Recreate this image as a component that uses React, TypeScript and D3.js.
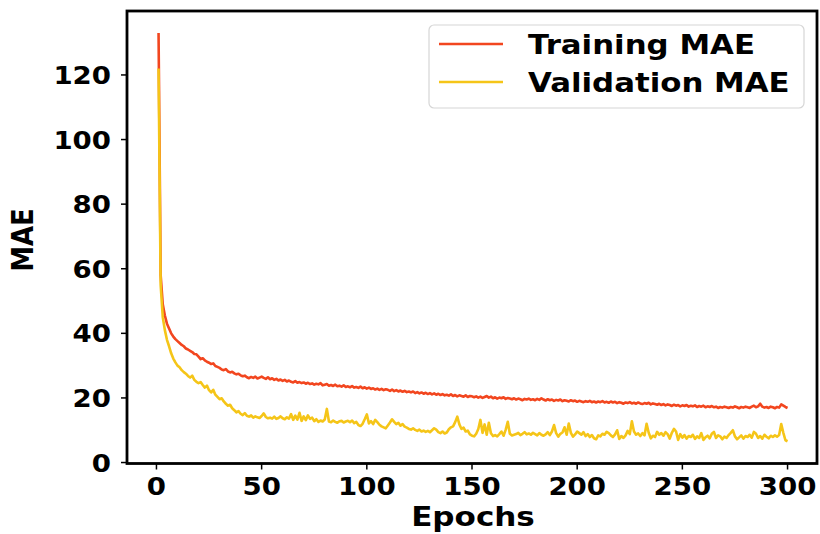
import React from 'react';
import * as d3 from 'd3';

// MAE per epoch (epochs 1..300)
const trainingMAE = [
  133, 58, 49, 45.5, 43, 41.5, 40, 39, 38.2, 37.6,
  37, 36.4, 36, 35.3, 35, 34.6, 34.2, 33.6, 33.5, 32.8,
  32, 32.3, 31.6, 31.2, 30.9, 30.5, 30.7, 29.9, 29.6, 29.3,
  28.8, 28.6, 28.9, 28.2, 27.9, 28.1, 27.6, 27.3, 27.5, 27,
  26.7, 26.9, 26.4, 26.1, 26.5, 26.2, 26.6, 26, 26.3, 26.6,
  26.2, 25.9, 26.4, 25.8, 26.1, 25.6, 25.9, 25.4, 25.7, 25.3,
  25.6, 25.1, 25.4, 25, 24.8, 25.2, 24.7, 24.9, 24.6, 24.8,
  24.4, 24.7, 24.3, 24.5, 24.1, 24.4, 24.2, 24.6, 23.9, 24.1,
  24.3, 23.8, 24, 23.7, 24.1, 23.6, 23.8, 23.5, 23.9, 23.4,
  23.6, 23.3, 23.7, 23.2, 23.4, 23.1, 23.5, 23, 23.3, 22.9,
  23.2, 22.8, 23, 22.6, 22.9, 22.5, 22.8, 22.4, 22.7, 22.5,
  22.2, 22.6, 22.1, 22.4, 22, 22.3, 21.9, 22.2, 21.8, 22,
  21.7, 22, 21.5, 21.8, 21.4, 21.7, 21.3, 21.6, 21.2, 21.5,
  21.1, 21.4, 21, 21.3, 20.9, 21.2, 20.8, 21, 20.7, 21.1,
  20.6, 20.9, 20.5, 20.8, 20.6, 20.4, 20.8, 20.3, 20.6, 20.5,
  20.2, 20.5, 20.1, 20.4, 20, 20.3, 20.6, 20.1, 20.4, 19.9,
  20.2, 19.8, 20.1, 19.9, 20.2, 19.7, 20, 19.8, 19.6, 19.9,
  19.5, 19.8, 19.6, 19.3, 19.7, 19.5, 19.8, 19.4, 19.6, 19.3,
  19.7, 19.4, 19.9, 19.5, 19.2, 19.6, 19.3, 19.5, 19.1, 19.4,
  19.2, 19.5, 19, 19.3, 19.1, 18.9, 19.3, 19, 19.2, 18.8,
  19.1, 18.9, 18.7, 19, 18.8, 19.1, 18.7, 18.9, 18.6, 18.9,
  18.7, 19, 18.6, 18.8, 18.5, 18.9, 18.6, 18.8, 18.4, 18.7,
  18.5, 18.2, 18.6, 18.4, 18.7, 18.3, 18.5, 18.2, 18.6, 18.3,
  18.1, 18.4, 18.2, 18.5, 18, 18.3, 18.1, 17.9, 18.2, 17.8,
  18.1, 17.7, 18, 17.8, 17.5, 17.9, 17.6, 17.8, 17.4, 17.7,
  17.5, 17.8, 17.3, 17.6, 17.4, 17.7, 17.2, 17.5, 17.3, 17.6,
  17.1, 17.4, 17.2, 17.5, 17.1, 17.3, 16.9, 17.2, 17, 17.3,
  17.1, 16.9, 17.2, 17, 17.4, 17.1, 16.8, 17.2, 17, 17.3,
  17.1, 16.9, 17.3, 17.6, 17.1, 17.4, 18.2, 17.3, 17, 17.2,
  16.9, 17.3, 17.1, 16.8, 17.2, 17, 18, 17.6, 17.2, 16.9,
];

const validationMAE = [
  122, 55, 45, 41, 38, 36, 33.8, 32.2, 31, 30,
  29.5, 28.6, 28, 27.5, 26.8, 26.3, 26.9, 25.6, 25, 24.6,
  24.9, 24, 23.2, 23.8, 22.4, 21.7, 22.5, 21, 20.3, 19.6,
  19.9, 18.9, 18.2, 17.6, 17.9, 16.8, 16.2, 15.5, 15.9, 15.1,
  14.7, 15.3, 14.5, 14.2, 14.6, 13.9, 14.3, 14, 13.8, 14.4,
  15.2, 14.1, 13.7, 13.9, 13.6, 14.2, 13.5, 13.8, 14.3, 13.7,
  13.4, 14, 13.6, 15, 13.2, 14.5, 13.3, 15.4, 12.9, 14.3,
  13.1, 14.6, 13.5, 13.9, 12.8, 13.4, 12.6, 13, 12.7, 13.3,
  16.6, 12.7, 12.5, 13, 12.6, 12.3, 12.8, 12.9, 12.4, 12.7,
  12.9, 12.5, 13, 12.2, 12.6, 11.6, 11.3, 12, 13.4, 14.9,
  12.1, 12.8, 11.9, 13.2, 12.5, 11.7, 11.2, 10.9, 10.6, 11.5,
  12.4, 13.4, 12.6, 11.9, 12.3, 11.4, 11.9, 11.1, 10.8, 10.4,
  10.2, 10.6, 10.1, 9.8, 10.2, 9.6, 9.9, 9.5, 9.8, 9.4,
  10, 10.6, 10.2, 9.4, 9.1, 9.6, 9, 9.3, 10.3, 10.9,
  11.2, 12.5, 14.2, 11.8, 10.4, 10.8, 9.6, 9.9, 8.7, 8.3,
  8.1, 8.9, 10.4, 13.2, 9.2, 11.8, 8.6, 12.3, 9.1, 8.2,
  8.5, 8.1, 8.8, 9.6, 8.3, 10.1, 12.6, 8.9, 8.4, 8.6,
  8.8, 9.2, 8.5, 8.9, 9.4, 8.7, 9, 8.6, 9.2, 8.8,
  8.4, 9.1, 8.6, 8.3, 8.7, 9.4, 8.5, 9.6, 11.6, 9.1,
  8, 8.9, 9.3, 10.9, 8.6, 12.1, 9.2, 8, 8.7, 9.6,
  9.1, 8.6, 9.4, 8.2, 8.8, 7.9, 8.5, 7.5, 7.2, 8.4,
  8.1, 8.9, 8.6, 9.5, 9.1, 8.4, 7.9, 8.7, 10, 7.3,
  8.2, 7.6, 8.4, 9.8, 8.8, 12.8, 9.6, 8.6, 9, 8.2,
  9.1, 8.4, 12, 9.2, 7.5, 8.3, 7.9, 9.5, 8.6, 9.1,
  8.3, 9.4, 8.8, 7.4, 9.2, 10.4, 9.6, 7, 8.8, 7.7,
  8.5, 7.4, 8.2, 7.9, 8.6, 7.3, 8.1, 7.6, 9.1, 7,
  7.8, 8.3, 7.5, 8.9, 9.5, 7.6, 8.4, 8.1, 7.2, 8,
  7.6, 8.5, 9.2, 10, 8.1, 7.2, 7.8, 8.4, 7.4, 8.2,
  7.9, 8.6, 7.7, 9.5, 8.9, 7.6, 8.2, 7.4, 8.6, 8,
  7.5, 8.3, 7.9, 8.4, 8, 8.5, 11.9, 9.2, 6.9, 6.6,
];

const xTicks = [0, 50, 100, 150, 200, 250, 300];
const yTicks = [0, 20, 40, 60, 80, 100, 120];
const seriesNames = ['Training MAE', 'Validation MAE'];
const seriesColors = ['#f2461f', '#f5c518'];

const W = 820;
const H = 534;
const box = { left: 127, right: 817, top: 11, bottom: 463.5 };
const SX = 1.15; // the reference is stretched sideways
const FONT = '"DejaVu Sans", sans-serif';

const Label = ({ x, y, anchor = 'start', size, children, rotate = false }: any) => (
  <text
    transform={`translate(${x},${y}) scale(${SX},1)${rotate ? ' rotate(-90)' : ''}`}
    textAnchor={anchor}
    fontFamily={FONT}
    fontWeight="bold"
    fontSize={size}
    fill="#000"
  >
    {children}
  </text>
);

export default function App() {
  const x = d3.scaleLinear().domain([-14, 314]).range([box.left, box.right]);
  const y = d3.scaleLinear().domain([-0.3, 139.8]).range([box.bottom, box.top]);

  const line = d3
    .line<number>()
    .x((_, i) => x(i + 1))
    .y((d) => y(d));

  const series = [trainingMAE, validationMAE];

  return (
    <svg width={W} height={H} style={{ position: 'absolute', left: 0, top: 0, background: '#fff' }}>
      <rect width={W} height={H} fill="#fff" />

      {/* curves */}
      {series.map((s, i) => (
        <path
          key={seriesNames[i]}
          d={line(s) || ''}
          fill="none"
          stroke={seriesColors[i]}
          strokeWidth={2.6}
          strokeLinejoin="round"
        />
      ))}

      {/* frame */}
      <rect
        x={box.left}
        y={box.top}
        width={box.right - box.left}
        height={box.bottom - box.top}
        fill="none"
        stroke="#000"
        strokeWidth={2.8}
      />

      {/* x ticks */}
      {xTicks.map((t) => (
        <g key={'x' + t}>
          <line x1={x(t)} x2={x(t)} y1={box.bottom} y2={box.bottom + 6} stroke="#000" strokeWidth={1.5} />
          <Label x={x(t)} y={495} anchor="middle" size={24}>
            {t}
          </Label>
        </g>
      ))}

      {/* y ticks */}
      {yTicks.map((t) => (
        <g key={'y' + t}>
          <line x1={box.left - 6} x2={box.left} y1={y(t)} y2={y(t)} stroke="#000" strokeWidth={1.5} />
          <Label x={111} y={y(t) + 9} anchor="end" size={24}>
            {t}
          </Label>
        </g>
      ))}

      <Label x={473} y={526} anchor="middle" size={27}>
        Epochs
      </Label>
      <Label x={33} y={240} anchor="middle" size={26} rotate>
        MAE
      </Label>

      {/* legend */}
      <rect x={429} y={25} width={375} height={83} rx={5} fill="#fff" fillOpacity={0.8} stroke="#d6d6d6" strokeWidth={1.2} />
      {seriesNames.map((n, i) => (
        <g key={n}>
          <line x1={439} x2={503} y1={44 + i * 38} y2={44 + i * 38} stroke={seriesColors[i]} strokeWidth={2.4} />
          <Label x={528} y={54 + i * 38} size={26.8}>
            {n}
          </Label>
        </g>
      ))}
    </svg>
  );
}
